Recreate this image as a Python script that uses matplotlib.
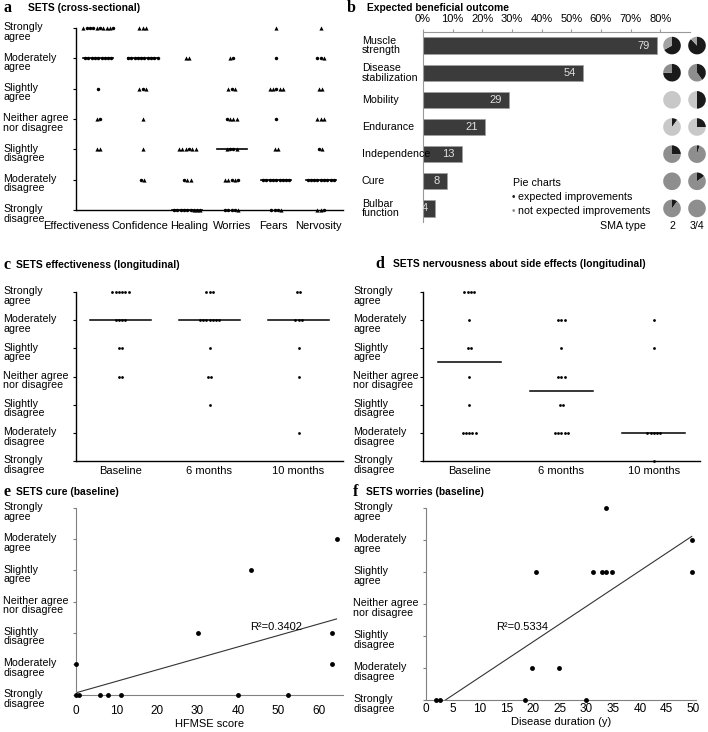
import numpy as np
import matplotlib.pyplot as plt
from matplotlib import transforms

plt.rcParams['font.family'] = ['Liberation Sans', 'DejaVu Sans']

# Likert levels, strongly agree (7) down to strongly disagree (1)
levels = ['Strongly\nagree', 'Moderately\nagree', 'Slightly\nagree',
          'Neither agree\nnor disagree', 'Slightly\ndisagree',
          'Moderately\ndisagree', 'Strongly\ndisagree']
scores = [7, 6, 5, 4, 3, 2, 1]

# a: SETS cross-sectional; one marker per answer ('o' circle, '^' triangle),
# listed per level from strongly agree down to strongly disagree
items = ['Effectiveness', 'Confidence', 'Healing', 'Worries', 'Fears', 'Nervosity']
effectiveness = ['^ooo^o^^^o', 'ooooooooo', 'o', '^o', '^^', '', '']
confidence = ['^^^', 'oooooooooo', '^o^', '^', '^', 'o^', '']
healing = ['', '^^', '', '', '^^^o^^', 'o^^', 'oooooo^^^']
worries = ['', '^o', '^o^', 'o^^^', '^oo^', '^^o^o', 'oooo^']
fears = ['^', 'o', '^^o^^', 'o', '^^', 'ooooooooo', 'ooo^']
nervosity = ['^', 'oo^', '^^', '^^^', 'o^', 'ooooooooo', '^^o']
item_marks = [effectiveness, confidence, healing, worries, fears, nervosity]
item_medians = [6, 6, 1, 3, 2, 2]

# b: expected beneficial outcome (% of patients) and pie fractions by SMA type
outcomes = ['Muscle\nstrength', 'Disease\nstabilization', 'Mobility', 'Endurance',
            'Independence', 'Cure', 'Bulbar\nfunction']
outcome_pct = [79, 54, 29, 21, 13, 8, 4]
pie_type2 = [0.67, 0.75, 0.0, 0.10, 0.25, 0.0, 0.10]
pie_type34 = [0.88, 0.40, 0.50, 0.25, 0.05, 0.15, 0.0]
pie_gray = ['#a2a2a2', '#8e8e8e', '#c8c8c8', '#c8c8c8', '#8e8e8e', '#8e8e8e', '#8e8e8e']

# c, d: longitudinal counts per level (strongly agree .. strongly disagree)
timepoints = ['Baseline', '6 months', '10 months']
eff_counts = [[6, 4, 2, 2, 0, 0, 0], [3, 7, 1, 2, 1, 0, 0], [2, 3, 1, 1, 0, 1, 0]]
eff_medians = [6, 6, 6]
nerv_counts = [[4, 1, 2, 1, 1, 5, 0], [0, 3, 1, 3, 2, 5, 0], [0, 1, 1, 0, 0, 5, 1]]
nerv_medians = [4.5, 3.5, 2]

# e: cure vs HFMSE score
hfmse = [0, 0.8, 5.9, 8.0, 11.0, 40.1, 52.3, 0, 63.4, 30.2, 63.4, 43.3, 64.4]
cure = [1, 1, 1, 1, 1, 1, 1, 2, 2, 3, 3, 5, 6]
# f: worries vs disease duration
duration = [33.7, 49.7, 20.6, 31.3, 33.0, 33.7, 34.7, 49.7, 19.8, 24.9, 1.9, 2.7, 18.6, 30.0]
worry = [7, 6, 5, 5, 5, 5, 5, 5, 2, 2, 1, 1, 1, 1]

W, H = 708, 732
fig = plt.figure(figsize=(W / 100, H / 100), dpi=100)


def box(x0, y0, x1, y1):
    # axes from a pixel box, origin top-left
    return fig.add_axes([x0 / W, 1 - y1 / H, (x1 - x0) / W, (y1 - y0) / H])


def ftext(x, y, s, **kw):
    return fig.text(x / W, 1 - y / H, s, **kw)


def panel_title(xl, xt, y, letter, title):
    ftext(xl, y, letter, family=['Liberation Serif', 'DejaVu Serif'],
          fontweight='bold', fontsize=11.5, va='center')
    ftext(xt, y, title, fontweight='bold', fontsize=7.4, va='center')


def likert_axis(ax, x_px, color='black', lw=1.0):
    ax.set_ylim(1, 7)
    ax.set_yticks(scores)
    ax.set_yticklabels([])
    for s in ['top', 'right']:
        ax.spines[s].set_visible(False)
    for s in ['left', 'bottom']:
        ax.spines[s].set_color(color)
        ax.spines[s].set_linewidth(lw)
    ax.tick_params(axis='y', length=2.5, width=0.8, color=color)
    ax.patch.set_alpha(0)
    tr = transforms.blended_transform_factory(fig.transFigure, ax.transData)
    tr = tr + transforms.ScaledTranslation(0, -4 / 100, fig.dpi_scale_trans)
    for sc, lab in zip(scores, levels):
        ax.text(x_px / W, sc, lab, transform=tr, ha='left', va='center',
                fontsize=7.7, linespacing=0.95)


def dot_row(ax, xc, y, marks, step, ms):
    n = len(marks)
    for k, m in enumerate(marks):
        x = xc + (k - (n - 1) / 2) * step
        size = ms * 1.2 if m == '^' else ms
        ax.plot(x, y, marker=m, ms=size, color='black', mew=0, ls='none',
                clip_on=False, zorder=3)


# ---- a
panel_title(3, 28, 8, 'a', 'SETS (cross-sectional)')
ax_a = box(76, 28, 343, 210)
likert_axis(ax_a, 3)
ax_a.set_xlim(-0.5, 5.5)
ax_a.set_xticks([])
step_a = 3.3 * 6 / 267
for i, marks in enumerate(item_marks):
    ax_a.plot([i - 0.34, i + 0.34], [item_medians[i]] * 2, color='black', lw=1.2,
              clip_on=False, zorder=2)
    for sc, m in zip(scores, marks):
        dot_row(ax_a, i, sc, m, step_a, 2.5)
tr_ax = transforms.blended_transform_factory(ax_a.transData, ax_a.transAxes)
label_shift = [-22, -3, 2, 0, -3, -2]
for i, name in enumerate(items):
    t = tr_ax + transforms.ScaledTranslation(label_shift[i] / 100, -16 / 100, fig.dpi_scale_trans)
    ax_a.text(i, 0, name, transform=t, ha='center', va='center', fontsize=8)

# ---- b
panel_title(347, 367, 8, 'b', 'Expected beneficial outcome')
ax_b = box(423, 32, 690, 222)
yb = np.arange(len(outcomes))
ax_b.barh(yb, outcome_pct, height=0.6, color='#3b3b3b', edgecolor='#a0a0a0', linewidth=0.5)
ax_b.set_ylim(len(outcomes) - 0.5, -0.5)
ax_b.set_xlim(0, 90)
ax_b.xaxis.tick_top()
ax_b.set_xticks(range(0, 81, 10))
ax_b.set_xticklabels([f'{t}%' for t in range(0, 81, 10)], fontsize=8)
ax_b.tick_params(axis='x', length=2.5, color='#999999', pad=3)
ax_b.set_yticks([])
ax_b.spines['right'].set_visible(False)
ax_b.spines['bottom'].set_visible(False)
for s in ['top', 'left']:
    ax_b.spines[s].set_color('#999999')
    ax_b.spines[s].set_linewidth(0.8)
for y, v in zip(yb, outcome_pct):
    ax_b.text(v - 2.5, y, str(v), ha='right', va='center', color='#e0e0e0', fontsize=8)
tr_b = transforms.blended_transform_factory(fig.transFigure, ax_b.transData)
for y, lab in zip(yb, outcomes):
    ax_b.text(362 / W, y, lab, transform=tr_b, ha='left', va='center',
              fontsize=7.7, linespacing=0.95)

row_h = 190 / len(outcomes)
for i in range(len(outcomes)):
    cy = 32 + (i + 0.5) * row_h
    for cx, frac in zip([672, 697], [pie_type2[i], pie_type34[i]]):
        pa = box(cx - 11, cy - 11, cx + 11, cy + 11)
        vals = [frac, 1 - frac]
        cols = ['#1a1a1a', pie_gray[i]]
        keep = [k for k in range(2) if vals[k] > 0]
        pa.pie([vals[k] for k in keep], colors=[cols[k] for k in keep], startangle=90,
               counterclock=False, wedgeprops=dict(linewidth=0))
        pa.set_aspect('equal')

ftext(513, 183, 'Pie charts', fontsize=7.7, va='center')
ftext(512, 197, '\u2022', color='#1a1a1a', fontsize=7, va='center')
ftext(518, 197, 'expected improvements', fontsize=7.7, va='center')
ftext(512, 211, '\u2022', color='#8e8e8e', fontsize=7, va='center')
ftext(518, 211, 'not expected improvements', fontsize=7.7, va='center')
ftext(600, 226, 'SMA type', fontsize=7.7, va='center')
ftext(672, 226, '2', fontsize=7.7, va='center', ha='center')
ftext(697, 226, '3/4', fontsize=7.7, va='center', ha='center')


# ---- c, d
def longitudinal(ax, counts, medians, width_px):
    ax.set_xlim(-0.5, 2.5)
    step = 3.3 * 3 / width_px
    for i, cnt in enumerate(counts):
        ax.plot([i - 0.34, i + 0.34], [medians[i]] * 2, color='black', lw=1.1, zorder=2)
        for sc, c in zip(scores, cnt):
            dot_row(ax, i, sc, 'o' * c, step, 2.0)
    ax.set_xticks(range(3))
    ax.set_xticklabels(timepoints, fontsize=8)
    ax.tick_params(axis='x', length=0, pad=3.5)


panel_title(3, 16, 265, 'c', 'SETS effectiveness (longitudinal)')
ax_c = box(76, 292, 343, 461)
likert_axis(ax_c, 3)
longitudinal(ax_c, eff_counts, eff_medians, 267)

panel_title(375, 393, 264, 'd', 'SETS nervousness about side effects (longitudinal)')
ax_d = box(423, 292, 700, 461)
likert_axis(ax_d, 353)
longitudinal(ax_d, nerv_counts, nerv_medians, 277)

# ---- e
panel_title(3, 16, 492, 'e', 'SETS cure (baseline)')
ax_e = box(76, 508, 343, 695)
likert_axis(ax_e, 3, color='#808080', lw=0.8)
ax_e.set_xlim(0, 66)
ax_e.set_xticks(range(0, 61, 10))
ax_e.tick_params(axis='x', length=0, pad=7.5, labelsize=8.5)
ax_e.plot(hfmse, cure, 'o', color='black', ms=3.5, mew=0, clip_on=False, zorder=3)
m_e, b_e = np.polyfit(hfmse, cure, 1)
xe = np.array([0, max(hfmse)])
ax_e.plot(xe, m_e * xe + b_e, color='#333333', lw=0.8)
ax_e.text(43, 3.09, 'R\u00b2=0.3402', fontsize=8, va='baseline')
ax_e.set_xlabel('HFMSE score', fontsize=8, labelpad=1)

# ---- f
panel_title(353, 366, 492, 'f', 'SETS worries (baseline)')
ax_f = box(426, 508, 696, 700)
likert_axis(ax_f, 353, color='#808080', lw=0.8)
ax_f.set_xlim(0, 50.5)
ax_f.set_xticks(range(0, 51, 5))
ax_f.tick_params(axis='x', length=0, pad=2.5, labelsize=8.5)
ax_f.plot(duration, worry, 'o', color='black', ms=3.5, mew=0, clip_on=False, zorder=3)
m_f, b_f = np.polyfit(duration, worry, 1)
xf = np.array([0, max(duration)])
ax_f.plot(xf, m_f * xf + b_f, color='#333333', lw=0.8)
ax_f.text(13.2, 3.19, 'R\u00b2=0.5334', fontsize=8, va='baseline')
ax_f.set_xlabel('Disease duration (y)', fontsize=8, labelpad=1)

fig.savefig('out.png', dpi=100)
